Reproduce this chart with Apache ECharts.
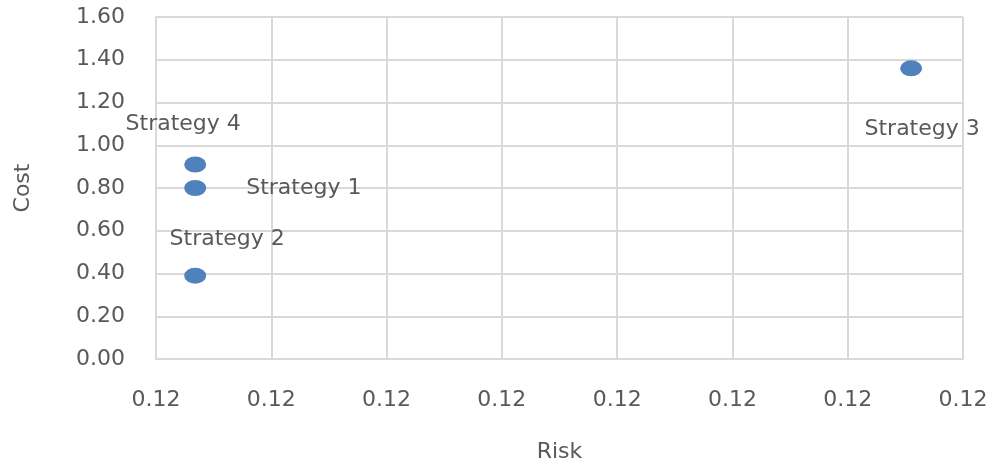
<!DOCTYPE html>
<html>
<head>
<meta charset="utf-8">
<script src="https://cdn.jsdelivr.net/npm/echarts@6/dist/echarts.min.js"></script>
<style>
  html, body { margin: 0; padding: 0; background: #ffffff; }
  #chart { width: 998px; height: 468px; }
</style>
</head>
<body>
<div id="chart"></div>
<script>
// Strategy comparison: risk vs. cost
const strategies = ['Strategy 1', 'Strategy 2', 'Strategy 3', 'Strategy 4'];
const riskValues = [0.120034, 0.120034, 0.120655, 0.120034];
const costValues = [0.80, 0.39, 1.36, 0.91];
const costTicks = [0, 0.2, 0.4, 0.6, 0.8, 1.0, 1.2, 1.4, 1.6];

// where each strategy's name sits relative to its marker
const labelPlacement = {
  'Strategy 1': { position: 'right', offset: [35, 0] },
  'Strategy 2': { position: 'top', offset: [32, -12] },
  'Strategy 3': { position: 'bottom', offset: [11, 37] },
  'Strategy 4': { position: 'top', offset: [-12, -16] }
};

const textColor = '#595959';
const gridColor = '#d9d9d9';
const fontFamily = 'DejaVu Sans';
const fontSize = 22;

const points = strategies.map((name, i) => ({
  name: name,
  value: [riskValues[i], costValues[i]],
  label: Object.assign({ show: true, formatter: name }, labelPlacement[name])
}));

const chart = echarts.init(document.getElementById('chart'));
chart.setOption({
  animation: false,
  backgroundColor: '#ffffff',
  textStyle: { fontFamily: fontFamily },
  grid: { left: 156, right: 35, top: 17, bottom: 108, containLabel: false },
  xAxis: {
    type: 'value',
    name: 'Risk',
    nameLocation: 'middle',
    nameGap: 82,
    nameTextStyle: { color: textColor, fontSize: fontSize, fontFamily: fontFamily },
    min: 0.1200,
    max: 0.1207,
    interval: 0.0001,
    axisLine: { show: true, lineStyle: { color: gridColor, width: 2 } },
    axisTick: { show: false },
    splitLine: { show: true, lineStyle: { color: gridColor, width: 2 } },
    axisLabel: {
      color: textColor, fontSize: fontSize, margin: 30, fontFamily: fontFamily,
      formatter: v => v.toFixed(2)
    }
  },
  yAxis: {
    type: 'value',
    name: 'Cost',
    nameLocation: 'middle',
    nameGap: 122,
    nameRotate: 90,
    nameTextStyle: { color: textColor, fontSize: fontSize, fontFamily: fontFamily },
    min: costTicks[0],
    max: costTicks[costTicks.length - 1],
    interval: costTicks[1] - costTicks[0],
    axisLine: { show: true, lineStyle: { color: gridColor, width: 2 } },
    axisTick: { show: false },
    splitLine: { show: true, lineStyle: { color: gridColor, width: 2 } },
    axisLabel: {
      color: textColor, fontSize: fontSize, margin: 31, fontFamily: fontFamily,
      formatter: v => v.toFixed(2)
    }
  },
  series: [{
    type: 'scatter',
    symbol: 'circle',
    symbolSize: [22, 16],
    itemStyle: { color: '#4F81BD', opacity: 1 },
    label: { color: textColor, fontSize: fontSize, fontFamily: fontFamily },
    data: points
  }]
});
</script>
</body>
</html>
